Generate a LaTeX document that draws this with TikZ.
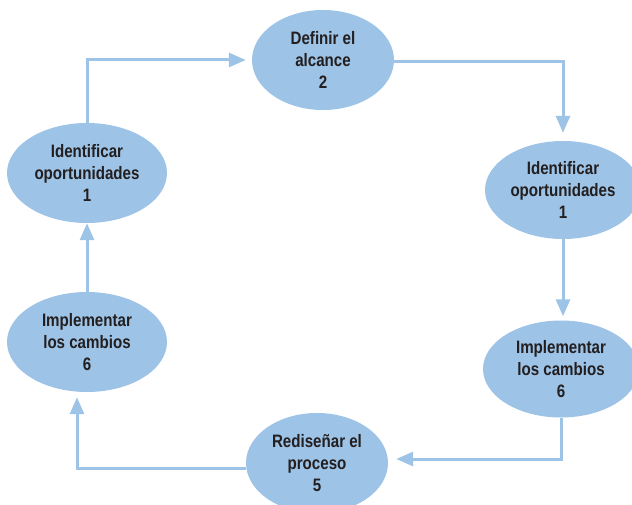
\documentclass[tikz,border=0pt]{standalone}
\usepackage{fontspec}
\setmainfont{Liberation Sans}[FakeStretch=0.84]
\usetikzlibrary{shapes.geometric,arrows.meta}
\definecolor{fillblue}{RGB}{157,195,230}
\definecolor{lineblue}{RGB}{157,195,230}
\definecolor{txt}{RGB}{35,31,32}
\tikzset{
  stage/.style={ellipse, fill=fillblue, draw=none, inner sep=0pt, align=center,
    text=txt, font=\fontsize{18}{22}\selectfont\bfseries},
  conn/.style={draw=lineblue, line width=3pt, -{Triangle[length=17pt,width=14pt]}}
}
\begin{document}
\begin{tikzpicture}[x=1pt,y=-1pt]
\useasboundingbox (0,0) rectangle (632,505);
\node[stage, minimum width=160pt, minimum height=100pt] (A) at (87,173) {Identificar\\oportunidades\\1};
\node[stage, minimum width=142pt, minimum height=100pt] (B) at (323,60) {Definir el\\alcance\\2};
\node[stage, minimum width=156pt, minimum height=98pt] (C) at (563,190) {Identificar\\oportunidades\\1};
\node[stage, minimum width=156pt, minimum height=97pt] (D) at (561,369) {Implementar\\los cambios\\6};
\node[stage, minimum width=142pt, minimum height=100pt] (E) at (317,463) {Redise\~nar el\\proceso\\5};
\node[stage, minimum width=160pt, minimum height=100pt] (F) at (87,342) {Implementar\\los cambios\\6};
\draw[conn, shorten >=6pt] (A.north) |- (B.west);
\draw[conn, shorten >=8pt] ([yshift=-2pt]B.east) -| (C.north);
\draw[conn, shorten >=4pt] (C.south) -- (C.south |- D.north);
\draw[conn, shorten >=8pt] (D.south) |- ([yshift=4pt]E.east);
\draw[conn, shorten >=5pt] ([yshift=-5pt]E.west) -| ([xshift=-10pt]F.south);
\draw[conn] (F.north) -- (A.south);
\end{tikzpicture}
\end{document}
